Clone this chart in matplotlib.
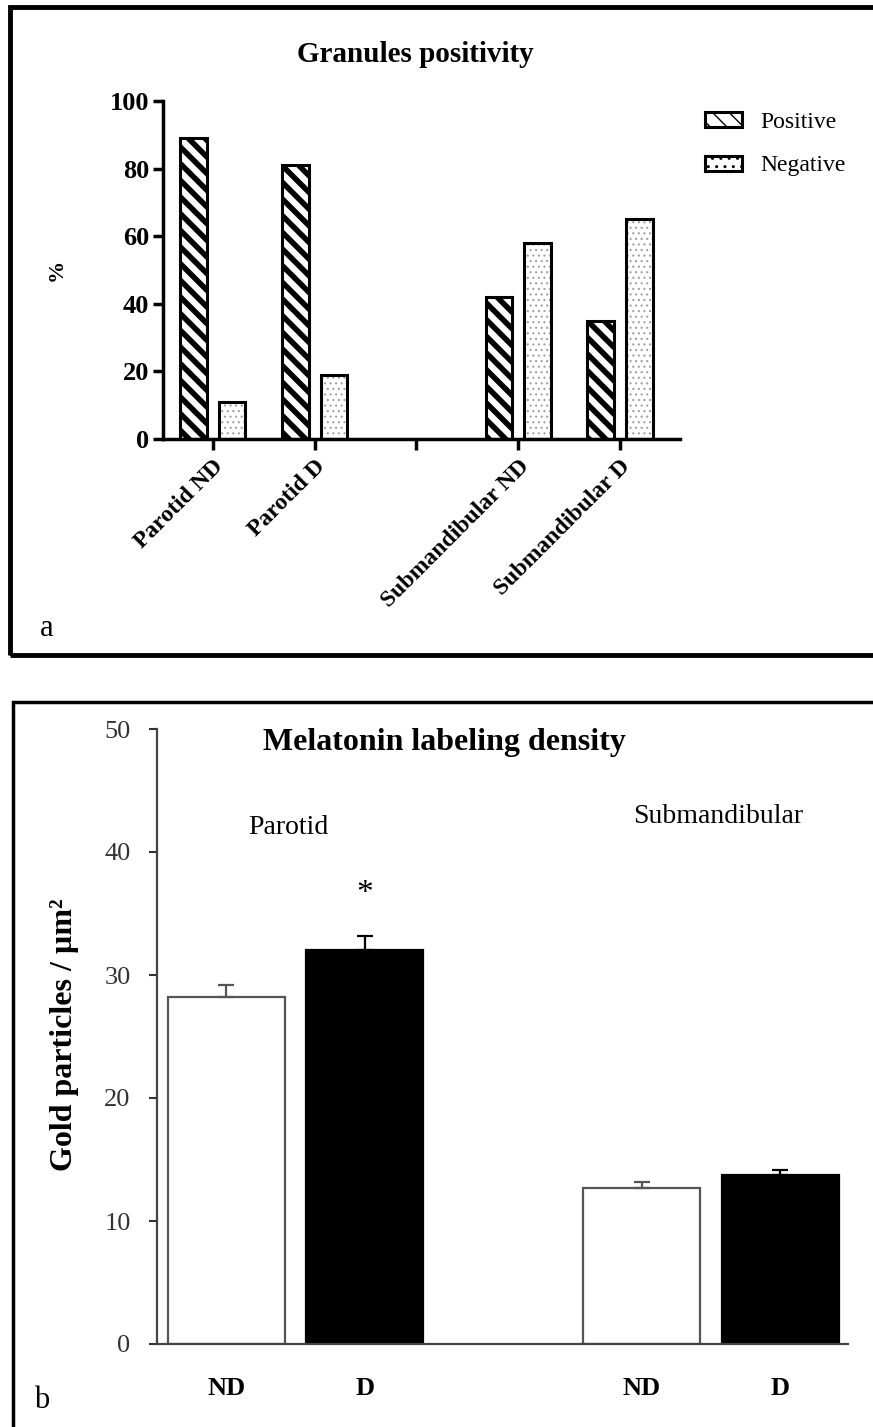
import numpy as np
import matplotlib.pyplot as plt
from matplotlib.patches import Rectangle, Patch

plt.rcParams['font.family'] = ['Liberation Serif', 'DejaVu Serif']

# panel a data
groups_a = ['Parotid ND', 'Parotid D', '', 'Submandibular ND', 'Submandibular D']
positive = [89, 81, 42, 35]
negative = [11, 19, 58, 65]

# panel b data
groups_b = ['ND', 'D', 'ND', 'D']
glands = ['Parotid', 'Submandibular']
density = [28.2, 32.0, 12.7, 13.7]
sem = [1.0, 1.2, 0.5, 0.45]

W, H = 873, 1427
fig = plt.figure(figsize=(W / 100, H / 100), dpi=100)


def fx(px):
    return px / W


def fy(py):
    return 1 - py / H


# panel frames
fig.add_artist(Rectangle((fx(10), fy(655)), 2, fy(7) - fy(655), transform=fig.transFigure,
                         fill=False, lw=3.5, ec='black', clip_on=False))
fig.add_artist(Rectangle((fx(13), -0.2), 2, fy(702) + 0.2, transform=fig.transFigure,
                         fill=False, lw=2.5, ec='black', clip_on=False))

# ---------- panel a ----------
ax = fig.add_axes([fx(163), fy(439), fx(680) - fx(163), fy(101) - fy(439)])
pos_a = np.array([0, 1, 3, 4])
bw = 0.26
off = 0.19

pbars = ax.bar(pos_a - off, positive, bw, color='white', edgecolor='black', lw=2.2, hatch='\\\\')
for b in pbars:
    b.set_hatch_linewidth(4)
nbars = ax.bar(pos_a + off, negative, bw, color='white', edgecolor='#a0a0a0', lw=0, hatch='...')
for b in nbars:
    b.set_hatch_linewidth(0.8)
ax.bar(pos_a + off, negative, bw, color='none', edgecolor='black', lw=2.2)

ax.set_xlim(-0.49, 4.59)
ax.set_ylim(0, 100)
ax.set_yticks(np.arange(0, 101, 20))
ax.set_xticks(np.arange(5))
ax.set_xticklabels(groups_a, rotation=45, ha='right', rotation_mode='anchor',
                   fontsize=17, fontweight='bold')
for t in ax.get_yticklabels():
    t.set_fontweight('bold')
    t.set_fontsize(19)
ax.tick_params(axis='y', length=7, width=2.5, pad=3)
ax.tick_params(axis='x', length=8, width=2.5, pad=4)
for s in ['top', 'right']:
    ax.spines[s].set_visible(False)
for s in ['left', 'bottom']:
    ax.spines[s].set_linewidth(2.5)

fig.text(fx(415), fy(55), 'Granules positivity', ha='center', va='center',
         fontsize=21, fontweight='bold')
fig.text(fx(57), fy(270), '%', ha='center', va='center', rotation=90,
         fontsize=16, fontweight='bold')
fig.text(fx(47), fy(628), 'a', ha='center', va='center', fontsize=22)

hp = Patch(facecolor='white', edgecolor='black', lw=2.2, hatch='\\\\')
hp.set_hatch_linewidth(4)
hn = Patch(facecolor='white', edgecolor='black', lw=2.2, hatch='..')
hn.set_hatch_linewidth(0.5)
leg = ax.legend([hp, hn], ['Positive', 'Negative'], loc='upper left',
                bbox_to_anchor=(fx(705), fy(112)), bbox_transform=fig.transFigure,
                frameon=False, fontsize=17, handlelength=1.55, handleheight=0.6,
                handletextpad=0.8, labelspacing=0.95, borderpad=0, borderaxespad=0)

# ---------- panel b ----------
bx = fig.add_axes([fx(157), fy(1344), fx(848) - fx(157), fy(729) - fy(1344)])
pos_b = np.array([0, 1, 3, 4])
colors = ['white', 'black', 'white', 'black']
edges = ['#555555', 'black', '#555555', 'black']
bx.bar(pos_b, density, 0.845, color=colors, edgecolor=edges, lw=1.6)
for x, v, e, c in zip(pos_b, density, sem, edges):
    bx.errorbar(x, v, yerr=[[0], [e]], fmt='none', ecolor=c, elinewidth=1.6,
                capsize=6, capthick=1.6)

bx.set_xlim(-0.502, 4.49)
bx.set_ylim(0, 50)
bx.set_yticks(np.arange(0, 51, 10))
bx.set_xticks(pos_b)
bx.set_xticklabels(groups_b, fontsize=19, fontweight='bold')
bx.tick_params(axis='x', length=0, pad=24)
bx.tick_params(axis='y', length=6, width=1.5, pad=13, labelsize=19, colors='#333333')
for s in ['top', 'right']:
    bx.spines[s].set_visible(False)
for s in ['left', 'bottom']:
    bx.spines[s].set_linewidth(1.6)
    bx.spines[s].set_color('#444444')

bx.text(1.577, 48.9, 'Melatonin labeling density', ha='center', va='center',
        fontsize=23, fontweight='bold')
bx.text(0.444, 42.0, glands[0], ha='center', va='center', fontsize=20)
bx.text(3.55, 42.9, glands[1], ha='center', va='center', fontsize=20)
bx.text(1, 36.6, '*', ha='center', va='center', fontsize=24)
fig.text(fx(65), fy(1035), 'Gold particles / µm²', ha='center', va='center',
         rotation=90, fontsize=23, fontweight='bold')
fig.text(fx(42), fy(1400), 'b', ha='center', va='center', fontsize=22)

fig.savefig('out.png', dpi=100)
